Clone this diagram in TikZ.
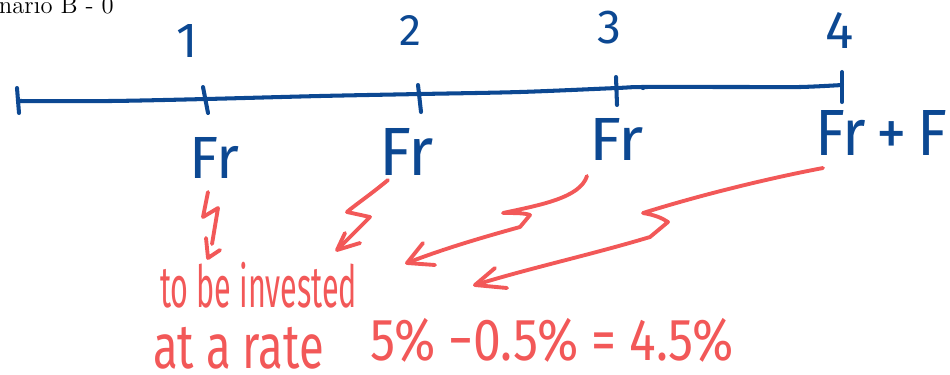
\documentclass[tikz,border=0pt]{standalone}
\usepackage{fontspec}
\usepackage{graphicx}
\newfontfamily\hand{Fira Sans}
\newlength\pxu
\setlength\pxu{0.2mm}
\newcommand\hw[3]{\resizebox*{#1\pxu}{#2\pxu}{\hand #3}}
\newcommand\hh[2]{\resizebox*{!}{#1\pxu}{\hand #2}}
\definecolor{inkblue}{RGB}{12,72,146}
\definecolor{inkred}{RGB}{242,88,88}
\tikzset{
  blueink/.style={draw=inkblue, line width=2.3pt, line cap=round, line join=round},
  redink/.style={draw=inkred, line width=2.2pt, line cap=round, line join=round},
  txt/.style={inner sep=0pt, outer sep=0pt},
  bluetxt/.style={txt, text=inkblue},
  redtxt/.style={txt, text=inkred},
}
\begin{document}
\begin{tikzpicture}[x=0.2mm, y=-0.2mm]
\useasboundingbox (0,0) rectangle (950,374);
% title (cut off at the left edge)
\node[txt, anchor=base west] (title) at (-1,13) {\fontsize{14}{16}\selectfont nario B - 0};

% timeline
\coordinate (p0) at (18,101);
\coordinate (p1) at (206,99);
\coordinate (p2) at (420,94);
\coordinate (p3) at (617,88);
\coordinate (p4) at (842,85);
\draw[blueink] plot[smooth, tension=0.5] coordinates {(p0) (110,101) (p1) (320,96) (p2) (520,92) (p3) (643,87) (740,87) (800,87) (p4)};
\fill[inkblue] (643,87.5) circle (2.6);
% ticks
\draw[blueink] (17,88) -- (19,113);
\draw[blueink] (203,87) -- (208,113);
\draw[blueink] (418,85) -- (421,112);
\draw[blueink] (616,77) -- (617,105);
\draw[blueink] (842,72) -- (842,102);

% period numbers
\node[bluetxt] (n1) at (187,41) {\hh{33}{1}};
\node[bluetxt] (n2) at (410,30) {\hh{30}{2}};
\node[bluetxt] (n3) at (609,28) {\hh{33}{3}};
\node[bluetxt] (n4) at (840,30) {\hh{36}{4}};

% cash flows
\node[bluetxt, anchor=north west] (fr1) at (189,137) {\hw{50}{41}{Fr}};
\node[bluetxt, anchor=north west] (fr2) at (379,128) {\hw{55}{47}{Fr}};
\node[bluetxt, anchor=north west] (fr3) at (589,118) {\hw{55}{42}{Fr}};
\node[bluetxt, anchor=north west] (fr4) at (815,110) {\hw{132}{45}{Fr\,+\,F}};

% red text
\node[redtxt, anchor=north west] (inv) at (160,262) {\hw{197}{46}{to be invested}};
\node[redtxt, anchor=north west] (rate) at (153,327) {\hw{171}{42}{at a rate}};
\node[redtxt, anchor=north west] (calc) at (370,318) {\hw{364}{44}{5\% −0.5\% = 4.5\%}};

% arrow 1
\coordinate (a1s) at (208,192);
\coordinate (a1t) at (208,258);
\draw[redink] (a1s) -- (203,217) -- (218,208) -- (212,244);
\draw[redink] (206,238) -- (a1t) -- (220,250);

% arrow 2
\coordinate (a2s) at (388,180);
\coordinate (a2t) at (337,250);
\draw[redink] (a2s) .. controls (370,195) and (355,205) .. (347,212) -- (370,217) -- (341,246);
\draw[redink] (345,233) -- (a2t) -- (360,243);

% arrow 3
\coordinate (a3s) at (587,176);
\coordinate (a3t) at (407,263);
\draw[redink] (a3s) .. controls (580,198) and (540,205) .. (503,213)
  .. controls (515,213) and (525,213) .. (530,215) -- (520,227)
  .. controls (480,238) and (440,250) .. (a3t);
\draw[redink] (423,243) -- (a3t) -- (435,265);

% arrow 4
\coordinate (a4s) at (823,168);
\coordinate (a4t) at (475,285);
\draw[redink] (a4s) .. controls (770,178) and (700,195) .. (643,213)
  .. controls (655,215) and (662,218) .. (668,222) -- (650,237)
  .. controls (590,255) and (530,268) .. (a4t);
\draw[redink] (495,268) -- (a4t) -- (507,288);
\end{tikzpicture}
\end{document}
